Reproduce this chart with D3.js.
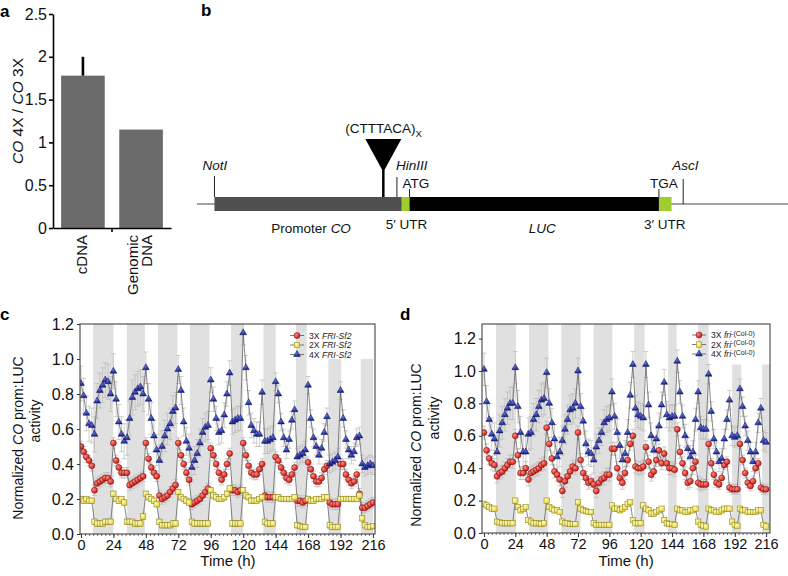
<!DOCTYPE html>
<html><head><meta charset="utf-8">
<script src="https://cdn.jsdelivr.net/npm/d3@7"></script>
<style>body{margin:0;background:#fff}svg{display:block}</style>
</head><body><svg id="chart" width="788" height="576"></svg>
<script>
// ---------------- DATA ----------------
// Panel a
const aCategories = ["cDNA", "Genomic DNA"];
const aValues = [1.78, 1.15];
const aErrors = [0.22, 0];
const aTicks = [0, 0.5, 1, 1.5, 2, 2.5];
const aTickLabels = ["0", "0.5", "1", "1.5", "2", "2.5"];

// Panel b (construct, arbitrary length units)
const bSegmentNames = ["promoter", "utr5", "luc", "utr3"];
const bSegmentStart = [0, 193, 201, 458];
const bSegmentEnd = [193, 201, 458, 471];
const bSites = ["NotI", "HinIII", "ATG", "TGA", "AscI"];
const bSitePos = [0, 188, 201, 458, 483];
const bRepeatPos = 174;

// Panels c, d: time axis
const timeH = [0,2,4,6,8,10,12,14,16,18,20,22,24,26,28,30,32,34,36,38,40,42,44,46,48,50,52,54,56,58,60,62,64,66,68,70,72,74,76,78,80,82,84,86,88,90,92,94,96,98,100,102,104,106,108,110,112,114,116,118,120,122,124,126,128,130,132,134,136,138,140,142,144,146,148,150,152,154,156,158,160,162,164,166,168,170,172,174,176,178,180,182,184,186,188,190,192,194,196,198,200,202,204,206,208,210,212,214,216];
const timeTicks = [0, 24, 48, 72, 96, 120, 144, 168, 192, 216];
const yTicksC = [0, 0.2, 0.4, 0.6, 0.8, 1.0, 1.2];
const yTickLabels = ["0.0", "0.2", "0.4", "0.6", "0.8", "1.0", "1.2"];

// Panel c (FRI-Sf2)
const c3X = [
 .50,.47,.44,.42,.39,.25,.29,.30,.31,.32,.32,.30,
 .52,.42,.38,.35,.35,.35,.28,.29,.30,.31,.32,.33,
 .52,.43,.38,.35,.33,.22,.20,.21,.22,.24,.26,.28,
 .52,.45,.40,.35,.31,.17,.18,.19,.20,.22,.24,.26,
 .49,.45,.40,.35,.31,.34,.40,.46,.25,.25,.24,.25,
 .52,.45,.39,.35,.34,.34,.37,.40,.22,.21,.21,.21,
 .44,.42,.38,.35,.32,.31,.34,.38,.19,.19,.18,.19,
 .41,.37,.33,.30,.30,.32,.37,.39,.18,.17,.17,.17,
 .40,.40,.34,.31,.29,.30,.34,.23,.15,.15,.16,.17,
 .18];
const c2X = [
 .20,.19,.20,.19,.19,.07,.06,.06,.06,.07,.07,.07,
 .23,.20,.19,.20,.18,.07,.07,.07,.06,.06,.06,.10,
 .23,.21,.20,.19,.17,.07,.05,.05,.05,.05,.06,.06,
 .24,.21,.20,.19,.18,.07,.06,.06,.06,.06,.06,.06,
 .25,.22,.21,.20,.20,.21,.23,.26,.06,.06,.06,.06,
 .25,.22,.21,.19,.19,.19,.20,.21,.07,.06,.06,.06,
 .21,.21,.20,.20,.20,.20,.20,.21,.05,.045,.04,.04,
 .20,.19,.19,.20,.20,.20,.21,.21,.05,.04,.04,.04,
 .20,.20,.20,.20,.20,.20,.20,.22,.09,.05,.04,.04,
 .045];
const c4X = [
 .86,.79,.69,.63,.62,.57,.76,.82,.85,.88,.87,.80,
 .93,.77,.64,.57,.53,.55,.66,.78,.81,.83,.84,.80,
 .95,.77,.66,.56,.48,.42,.50,.56,.60,.63,.70,.72,
 .94,.82,.64,.53,.49,.38,.42,.46,.52,.58,.61,.62,
 .88,.77,.66,.58,.59,.68,.80,.92,.64,.65,.66,.66,
 1.15,.95,.75,.62,.59,.57,.57,.81,.53,.53,.54,.55,
 .87,.80,.64,.55,.48,.54,.65,.71,.44,.45,.46,.48,
 .85,.66,.55,.50,.45,.49,.58,.67,.40,.41,.42,.44,
 .82,.66,.54,.48,.45,.47,.55,.56,.40,.38,.39,.40,
 .39];
const c3XErrPerDay = [.03,.03,.03,.03,.03,.03,.03,.03,.03];
const c2XErrPerDay = [.015,.015,.015,.015,.015,.015,.015,.015,.015];
const c4XErrPerDay = [.10,.10,.09,.08,.07,.07,.05,.05,.05];
const cBandStart = [9, 34, 57, 80.6, 111, 135, 159, 183, 207];
const cBandEnd = [24, 47.3, 71.3, 95, 120, 144, 167, 192.5, 216];
const cBandTop = [1.2, 1.2, 1.2, 1.2, 1.2, 1.2, 1.2, 1.0, 1.0];

// Panel d (fri-(Col-0))
const d3X = [
 .62,.51,.46,.43,.42,.35,.37,.38,.40,.42,.44,.44,
 .60,.48,.37,.37,.40,.33,.37,.38,.39,.40,.42,.43,
 .65,.55,.46,.38,.36,.33,.26,.32,.35,.38,.41,.40,
 .62,.45,.37,.34,.31,.32,.30,.26,.31,.33,.34,.36,
 .36,.52,.52,.40,.34,.31,.37,.45,.55,.60,.41,.40,
 .40,.41,.53,.44,.36,.38,.45,.51,.43,.49,.43,.40,
 .40,.39,.64,.50,.43,.37,.31,.32,.40,.44,.31,.30,
 .30,.30,.55,.43,.36,.31,.30,.34,.42,.44,.28,.27,
 .27,.27,.55,.45,.37,.31,.29,.32,.40,.43,.28,.27,
 .27];
const d2X = [
 .18,.17,.16,.15,.15,.07,.065,.06,.06,.06,.06,.06,
 .20,.16,.14,.15,.16,.08,.07,.06,.06,.06,.055,.06,
 .20,.16,.15,.14,.14,.13,.07,.06,.06,.055,.055,.055,
 .19,.15,.14,.135,.13,.13,.06,.05,.05,.05,.05,.05,
 .05,.17,.15,.15,.14,.15,.16,.18,.19,.08,.06,.06,
 .06,.17,.15,.14,.12,.12,.13,.14,.15,.08,.06,.055,
 .055,.05,.15,.14,.14,.13,.13,.14,.14,.15,.07,.05,
 .045,.04,.15,.14,.14,.13,.13,.14,.15,.15,.15,.07,
 .05,.045,.15,.14,.14,.13,.13,.13,.13,.14,.14,.05,
 .04];
const d4X = [
 1.01,.81,.70,.61,.58,.50,.63,.68,.73,.77,.80,.80,
 1.02,.78,.62,.50,.50,.61,.62,.70,.73,.78,.82,.83,
 .99,.80,.68,.58,.47,.50,.57,.64,.70,.76,.77,.80,
 1.00,.78,.69,.55,.50,.49,.45,.53,.57,.62,.68,.70,
 .71,.87,.72,.62,.54,.45,.49,.62,.85,1.04,.77,.73,
 .72,.71,1.04,.79,.60,.51,.58,.66,.79,.93,.73,.71,
 .72,.72,1.06,.87,.72,.60,.52,.47,.50,.70,.87,.65,
 .64,.64,.98,.75,.58,.50,.44,.46,.58,.70,.82,.60,
 .59,.60,.89,.78,.66,.57,.50,.44,.50,.68,.77,.57,
 .56];
const d3XErrPerDay = [.04,.04,.04,.04,.04,.04,.04,.03,.03];
const d2XErrPerDay = [.01,.01,.01,.01,.01,.01,.01,.01,.01];
const d4XErrPerDay = [.10,.10,.09,.08,.08,.08,.07,.06,.06];
const dBandStart = [9.2, 34.5, 59.2, 84, 115, 141, 164, 190, 213];
const dBandEnd = [24.5, 49.3, 74, 98.3, 123, 147.5, 172, 197, 221];
const dBandTop = [1.3, 1.3, 1.3, 1.3, 1.3, 1.3, 1.3, 1.04, 1.04];

// ---------------- DRAWING ----------------
const FONT = '"Liberation Sans", Arial, Helvetica, sans-serif';
const svg = d3.select("#chart").attr("font-family", FONT);
svg.append("rect").attr("width", 788).attr("height", 576).attr("fill", "#fff");
const defs = svg.append("defs");
function radial(id, c0, c1) {
  const g = defs.append("radialGradient").attr("id", id).attr("cx", "35%").attr("cy", "35%").attr("r", "70%");
  g.append("stop").attr("offset", "0%").attr("stop-color", c0);
  g.append("stop").attr("offset", "100%").attr("stop-color", c1);
}
radial("gRed", "#ff8c7c", "#c41414");
radial("gYel", "#fffcc4", "#e4d236");
radial("gBlu", "#6a78e0", "#161f88");

const styles = {
  circle: { fill: "url(#gRed)", stroke: "#7a0a0a" },
  square: { fill: "url(#gYel)", stroke: "#8a8220" },
  triangle: { fill: "url(#gBlu)", stroke: "#0c1060" }
};
function addMarker(sel, shape) {
  let m;
  if (shape === "circle") m = sel.append("circle").attr("r", 3.0);
  else if (shape === "square") m = sel.append("rect").attr("x", -2.7).attr("y", -2.7).attr("width", 5.4).attr("height", 5.4);
  else m = sel.append("path").attr("d", d3.symbol(d3.symbolTriangle, 20)());
  m.attr("fill", styles[shape].fill).attr("stroke", styles[shape].stroke).attr("stroke-width", 0.5);
}

// ---------- Panel a ----------
{
  const g = svg.append("g");
  const x = d3.scaleBand().domain(aCategories).range([53, 171]).paddingInner(0.25).paddingOuter(0.14);
  const y = d3.scaleLinear().domain([0, 2.5]).range([228, 14]);
  g.selectAll("rect.bar").data(aCategories).join("rect")
    .attr("x", d => x(d)).attr("width", x.bandwidth())
    .attr("y", (d, i) => y(aValues[i])).attr("height", (d, i) => y(0) - y(aValues[i]))
    .attr("fill", "#6b6b6b");
  g.selectAll("line.err").data(aCategories.filter((d, i) => aErrors[i] > 0)).join("line")
    .attr("x1", d => x(d) + x.bandwidth() / 2).attr("x2", d => x(d) + x.bandwidth() / 2)
    .attr("y1", d => y(aValues[aCategories.indexOf(d)]))
    .attr("y2", d => y(aValues[aCategories.indexOf(d)] + aErrors[aCategories.indexOf(d)]))
    .attr("stroke", "#000").attr("stroke-width", 2.6);
  const yAx = g.append("g").attr("transform", "translate(53,0)")
    .call(d3.axisLeft(y).tickValues(aTicks).tickFormat((d, i) => aTickLabels[i]).tickSize(4).tickSizeOuter(0).tickPadding(2));
  yAx.selectAll("text").attr("font-size", 16).attr("fill", "#111").attr("font-family", FONT);
  yAx.selectAll("line,path").attr("stroke", "#000").attr("stroke-width", 1.6);
  const xAx = g.append("g").attr("transform", "translate(0,228)")
    .call(d3.axisBottom(x).tickSize(0).tickSizeOuter(0).tickFormat(""));
  xAx.select("path").attr("stroke", "#000").attr("stroke-width", 1.6);
  const mid = (x(aCategories[0]) + x.bandwidth() + x(aCategories[1])) / 2;
  g.append("line").attr("x1", mid).attr("x2", mid).attr("y1", 228).attr("y2", 232).attr("stroke", "#000").attr("stroke-width", 1.6);
  aCategories.forEach(c => {
    const lines = c.split(" ");
    const cx = x(c) + x.bandwidth() / 2;
    lines.forEach((ln, k) => {
      const off = (k - (lines.length - 1) / 2) * 14 - 1;
      g.append("text").attr("transform", `translate(${cx + off},235) rotate(-90)`)
        .attr("text-anchor", "end").attr("dy", "0.35em").attr("font-size", 15).attr("fill", "#111").text(ln);
    });
  });
  const yl = g.append("text").attr("transform", "translate(23,111) rotate(-90)").attr("text-anchor", "middle")
    .attr("font-size", 15.5).attr("fill", "#111");
  yl.append("tspan").attr("font-style", "italic").text("CO");
  yl.append("tspan").text(" 4X / ");
  yl.append("tspan").attr("font-style", "italic").text("CO");
  yl.append("tspan").text(" 3X");
  svg.append("text").attr("x", 0).attr("y", 17).attr("font-size", 17).attr("font-weight", "bold").text("a");
}

// ---------- Panel b ----------
{
  const g = svg.append("g");
  const x = d3.scaleLinear().domain([-18, 591]).range([197, 788]);
  const yMid = 204, hh = 7;
  g.append("line").attr("x1", x(-18)).attr("x2", x(591)).attr("y1", yMid).attr("y2", yMid).attr("stroke", "#444").attr("stroke-width", 1);
  const segFill = { promoter: "#4f4f4f", utr5: "#9fcd2e", luc: "#000", utr3: "#9fcd2e" };
  g.selectAll("rect.seg").data(bSegmentNames).join("rect")
    .attr("x", (d, i) => x(bSegmentStart[i])).attr("width", (d, i) => x(bSegmentEnd[i]) - x(bSegmentStart[i]))
    .attr("y", yMid - hh).attr("height", 2 * hh).attr("fill", d => segFill[d]);
  const siteTop = { NotI: 176, HinIII: 177, ATG: 189, TGA: 189, AscI: 179 };
  const siteBot = { NotI: yMid - hh, HinIII: yMid - hh, ATG: yMid - hh, TGA: yMid - hh, AscI: yMid };
  bSites.forEach((s, i) => {
    g.append("line").attr("x1", x(bSitePos[i])).attr("x2", x(bSitePos[i]))
      .attr("y1", siteTop[s]).attr("y2", siteBot[s]).attr("stroke", "#222").attr("stroke-width", 1);
  });
  const lab = (txt, xx, yy, italic, anchor) => g.append("text").attr("x", xx).attr("y", yy)
    .attr("font-size", 13.5).attr("fill", "#111").attr("font-style", italic ? "italic" : "normal")
    .attr("text-anchor", anchor || "start").text(txt);
  lab("NotI", x(bSitePos[0]) - 12, 170, true);
  lab("HinIII", x(bSitePos[1]) - 1, 170, true);
  lab("ATG", x(bSitePos[2]) - 7, 188, false);
  lab("TGA", x(bSitePos[3]) - 9, 188, false);
  lab("AscI", x(bSitePos[4]) - 11, 170, true);
  const rx = x(bRepeatPos);
  g.append("path").attr("d", `M${rx - 18},139 L${rx + 18},139 L${rx},172 Z`).attr("fill", "#000");
  g.append("line").attr("x1", rx).attr("x2", rx).attr("y1", 170).attr("y2", yMid - hh).attr("stroke", "#000").attr("stroke-width", 2.5);
  const rt = g.append("text").attr("x", rx - 38).attr("y", 133).attr("font-size", 13.5).attr("fill", "#111");
  rt.append("tspan").text("(CTTTACA)");
  rt.append("tspan").attr("font-size", 9.5).attr("dy", 4).text("X");
  const pm = g.append("text").attr("x", (x(bSegmentStart[0]) + x(bSegmentEnd[0])) / 2 + 3).attr("y", 233)
    .attr("text-anchor", "middle").attr("font-size", 13.5).attr("fill", "#111");
  pm.append("tspan").text("Promoter ");
  pm.append("tspan").attr("font-style", "italic").text("CO");
  lab("5\u2032 UTR", x(bSegmentStart[1]) - 16, 229, false);
  lab("LUC", (x(bSegmentStart[2]) + x(bSegmentEnd[2])) / 2 + 8, 233, true, "middle");
  lab("3\u2032 UTR", x(bSegmentStart[3]) - 15, 229, false);
  svg.append("text").attr("x", 201).attr("y", 16).attr("font-size", 17).attr("font-weight", "bold").text("b");
}

// ---------- Panels c, d ----------
function timecourse(o) {
  const g = svg.append("g");
  const x = d3.scaleLinear().domain(o.xDomain).range([o.left, o.right]);
  const y = d3.scaleLinear().domain(o.yDomain).range([o.bottom, o.top]);
  const clipId = "clip" + o.id;
  defs.append("clipPath").attr("id", clipId).append("rect")
    .attr("x", o.left).attr("y", o.top).attr("width", o.right - o.left).attr("height", o.bottom - o.top);
  const plot = g.append("g").attr("clip-path", `url(#${clipId})`);
  plot.selectAll("rect.band").data(o.bandStart).join("rect")
    .attr("x", d => x(d)).attr("width", (d, i) => x(o.bandEnd[i]) - x(d))
    .attr("y", (d, i) => y(Math.min(o.bandTop[i], o.yDomain[1]))).attr("height", (d, i) => o.bottom - y(Math.min(o.bandTop[i], o.yDomain[1])))
    .attr("fill", "#e0e0e0");
  const sets = o.series.map(s => ({
    s, pts: timeH.map((t, i) => ({ t, v: s.values[i], e: s.err[Math.min(8, Math.floor(t / 24))] }))
  }));
  sets.forEach(({ pts }) => {
    const eb = plot.append("g").attr("stroke", "#b9b9b9").attr("stroke-width", 0.7);
    pts.forEach(p => {
      const xx = x(p.t), y1 = y(p.v - p.e), y2 = y(p.v + p.e);
      eb.append("line").attr("x1", xx).attr("x2", xx).attr("y1", y1).attr("y2", y2);
      eb.append("line").attr("x1", xx - 2.5).attr("x2", xx + 2.5).attr("y1", y2).attr("y2", y2);
      eb.append("line").attr("x1", xx - 2.5).attr("x2", xx + 2.5).attr("y1", y1).attr("y2", y1);
    });
  });
  const line = d3.line().x(d => x(d.t)).y(d => y(d.v));
  sets.forEach(({ pts }) => {
    plot.append("path").attr("d", line(pts)).attr("fill", "none").attr("stroke", "#555").attr("stroke-width", 0.7);
  });
  sets.forEach(({ s, pts }) => {
    plot.append("g").selectAll("g").data(pts).join("g")
      .attr("transform", d => `translate(${x(d.t)},${y(d.v)})`)
      .each(function () { addMarker(d3.select(this), s.shape); });
  });
  g.append("rect").attr("x", o.left).attr("y", o.top).attr("width", o.right - o.left).attr("height", o.bottom - o.top)
    .attr("fill", "none").attr("stroke", "#333").attr("stroke-width", 1);
  const yAx = g.append("g").attr("transform", `translate(${o.left},0)`)
    .call(d3.axisLeft(y).tickValues(yTicksC).tickFormat((d, i) => yTickLabels[i]).tickSize(3).tickSizeOuter(0).tickPadding(3));
  yAx.select("path").remove();
  yAx.selectAll("text").attr("font-size", 16).attr("fill", "#111").attr("font-family", FONT);
  yAx.selectAll("line").attr("stroke", "#333");
  const xAx = g.append("g").attr("transform", `translate(0,${o.bottom})`)
    .call(d3.axisBottom(x).tickValues(timeTicks).tickFormat(d3.format("d")).tickSize(4).tickSizeOuter(0).tickPadding(2));
  xAx.select("path").remove();
  xAx.selectAll("text").attr("font-size", 14.5).attr("fill", "#111").attr("font-family", FONT);
  xAx.selectAll("line").attr("stroke", "#333");
  const minor = g.append("g").attr("transform", `translate(0,${o.bottom})`)
    .call(d3.axisBottom(x).tickValues(d3.range(0, 217, 3)).tickFormat("").tickSize(2).tickSizeOuter(0));
  minor.select("path").remove();
  minor.selectAll("line").attr("stroke", "#333").attr("stroke-width", 0.7);
  g.append("text").attr("x", (x(0) + x(216)) / 2 + 1).attr("y", 566).attr("text-anchor", "middle")
    .attr("font-size", 15).attr("fill", "#111").text("Time (h)");
  const t1 = g.append("text").attr("transform", `translate(${o.yl1x},${o.yl1y}) rotate(-90)`)
    .attr("text-anchor", "middle").attr("font-size", 14).attr("fill", "#111");
  t1.append("tspan").text("Normalized ");
  t1.append("tspan").attr("font-style", "italic").text("CO");
  t1.append("tspan").text(" prom:LUC");
  g.append("text").attr("transform", `translate(${o.yl2x},${o.yl2y}) rotate(-90)`)
    .attr("text-anchor", "middle").attr("font-size", 14).attr("fill", "#111").text("activity");
  o.series.forEach((s, i) => {
    const ly = o.legY[i];
    g.append("line").attr("x1", o.legX - 7).attr("x2", o.legX + 7).attr("y1", ly).attr("y2", ly)
      .attr("stroke", "#555").attr("stroke-width", 0.8);
    const mg = g.append("g").attr("transform", `translate(${o.legX},${ly})`);
    addMarker(mg, s.shape);
    const tx = g.append("text").attr("x", o.legX + 12).attr("y", ly).attr("dy", "0.35em")
      .attr("font-size", 8.6).attr("fill", "#222");
    tx.append("tspan").text(s.label[0]);
    tx.append("tspan").attr("font-style", "italic").text(s.label[1]);
    if (s.label[2]) tx.append("tspan").attr("font-size", 7).attr("dy", -2.5).text(s.label[2]);
  });
  svg.append("text").attr("x", o.letterX).attr("y", 320).attr("font-size", 17).attr("font-weight", "bold").text(o.id);
}

timecourse({
  id: "c", left: 80, right: 375, top: 324, bottom: 534, xDomain: [-0.7, 217.5], yDomain: [0, 1.2],
  bandStart: cBandStart, bandEnd: cBandEnd, bandTop: cBandTop,
  series: [
    { values: c3X, err: c3XErrPerDay, shape: "circle", label: ["3X ", "FRI-Sf2"] },
    { values: c2X, err: c2XErrPerDay, shape: "square", label: ["2X ", "FRI-Sf2"] },
    { values: c4X, err: c4XErrPerDay, shape: "triangle", label: ["4X ", "FRI-Sf2"] }
  ],
  legX: 297, legY: [335.5, 345, 354.5],
  yl1x: 23, yl1y: 438, yl2x: 40, yl2y: 421, letterX: 0
});
timecourse({
  id: "d", left: 482, right: 770, top: 324, bottom: 533, xDomain: [-1.5, 219], yDomain: [0, 1.29],
  bandStart: dBandStart, bandEnd: dBandEnd, bandTop: dBandTop,
  series: [
    { values: d3X, err: d3XErrPerDay, shape: "circle", label: ["3X ", "fri", "-(Col-0)"] },
    { values: d2X, err: d2XErrPerDay, shape: "square", label: ["2X ", "fri", "-(Col-0)"] },
    { values: d4X, err: d4XErrPerDay, shape: "triangle", label: ["4X ", "fri", "-(Col-0)"] }
  ],
  legX: 699, legY: [335, 344.5, 354],
  yl1x: 421, yl1y: 445, yl2x: 439, yl2y: 418, letterX: 400
});
</script></body></html>
